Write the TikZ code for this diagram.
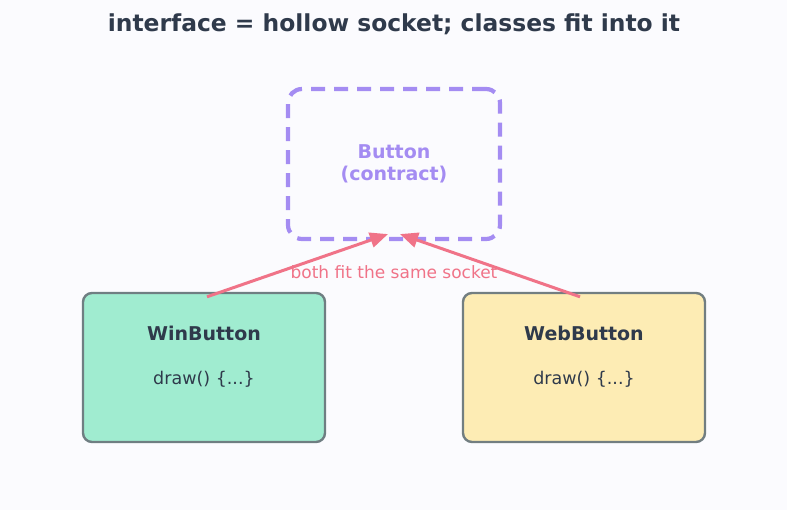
\documentclass[tikz,border=0pt]{standalone}
\usepackage{fontspec}
\setmainfont{DejaVu Sans}
\usetikzlibrary{arrows.meta}

\definecolor{bgcol}{HTML}{FBFBFE}
\definecolor{titlecol}{HTML}{2F3A4B}
\definecolor{contractcol}{HTML}{A48CF2}
\definecolor{arrowcol}{HTML}{F07388}
\definecolor{wincol}{HTML}{A0ECD0}
\definecolor{webcol}{HTML}{FDECB4}
\definecolor{edgecol}{HTML}{6F7E82}

\tikzset{
  classbox/.style={draw=edgecol, line width=2.4pt, rounded corners=9pt,
    minimum width=242pt, minimum height=149pt},
  fitarrow/.style={arrowcol, line width=3pt, -{Triangle[length=18pt,width=15pt]}},
}

\begin{document}
\begin{tikzpicture}[x=1pt,y=-1pt]
% Canvas
\fill[bgcol] (0,0) rectangle (787,510);
\useasboundingbox (0,0) rectangle (787,510);

% Title
\node[text=titlecol, font=\bfseries\fontsize{23.4}{28}\selectfont] (title) at (394,24)
  {interface = hollow socket; classes fit into it};

% The socket (interface)
\node[draw=contractcol, line width=4.2pt, dash pattern=on 14pt off 9pt,
  rounded corners=14pt, minimum width=212pt, minimum height=150pt,
  text=contractcol, align=center, font=\bfseries\fontsize{19}{22.5}\selectfont] (button) at (394,164)
  {Button\\(contract)};

% Implementing classes
\node[classbox, fill=wincol] (win) at (204,367.5) {};
\node[text=titlecol, font=\bfseries\fontsize{19}{22}\selectfont] (wintitle) at (204,333) {WinButton};
\node[text=titlecol, font=\fontsize{17.5}{21}\selectfont] (windraw) at (204,379) {draw() \{...\}};

\node[classbox, fill=webcol, draw=edgecol!80!gray] (web) at (584,367.5) {};
\node[text=titlecol, font=\bfseries\fontsize{19}{22}\selectfont] (webtitle) at (584,333) {WebButton};
\node[text=titlecol, font=\fontsize{17.5}{21}\selectfont] (webdraw) at (584,379) {draw() \{...\}};

% Arrows into the socket
\coordinate (winfoot) at ([xshift=3pt,yshift=-5pt]win.north);
\coordinate (webfoot) at ([xshift=-4pt,yshift=-5pt]web.north);
\coordinate (sockl) at ([xshift=-6pt,yshift=7pt]button.south);
\coordinate (sockr) at ([xshift=6pt,yshift=7pt]button.south);
\draw[fitarrow] (winfoot) -- (sockl);
\draw[fitarrow] (webfoot) -- (sockr);

\node[text=arrowcol, font=\fontsize{17}{20}\selectfont] (fitlabel) at (394,272) {both fit the same socket};
\end{tikzpicture}
\end{document}
